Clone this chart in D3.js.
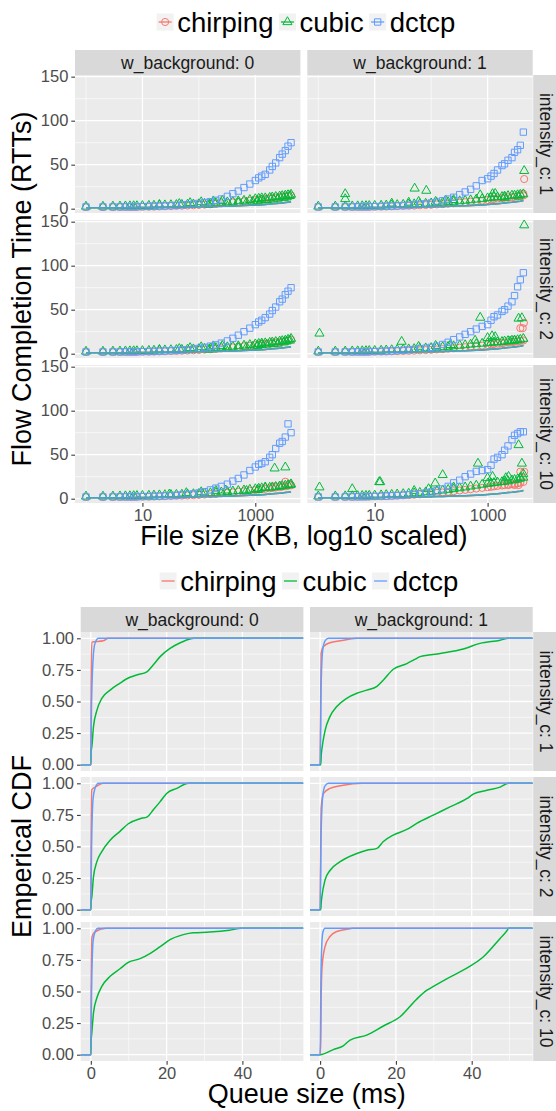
<!DOCTYPE html>
<html><head><meta charset="utf-8">
<script src="https://cdn.jsdelivr.net/npm/d3@7"></script>
<style>
body{margin:0;background:#fff;}
svg text{font-family:"Liberation Sans",Arial,Helvetica,sans-serif;}
</style></head><body>
<svg id="c" width="556" height="1111"></svg>
<script>
// ---------------- DATA ----------------
const protocols = ["chirping", "cubic", "dctcp"];
const wBackgrounds = ["0", "1"];
const intensities = ["1", "2", "10"];

// file sizes (KB) shared by the main point series
const sizesKB = [1,2,3,4,5,6,7,8,10,13,16,20,25,32,40,50,63,80,100,126,160,200,250,320,400,500,630,800,1000,1150,1300,1500,1800,2000,2300,2700,3000,3400,3800,4300];

// flow completion time (RTTs), one value per size
const dctcp_w0_i1 = [2,2,2,2.1,2.1,2.2,2.2,2.3,2.4,2.6,2.8,3,3.2,3.5,3.8,4.2,4.6,5.2,6,7,8,9.5,11,14,17,20,24,28,32,35,37,39,44,48,52,58,62,66,71,75];
const cubic_w0_i1 = [2.5,2.5,2.6,2.7,2.8,2.9,3,3,3.2,3.4,3.6,3.8,4,4.2,4.4,4.6,4.8,5,5.3,5.6,6,6.4,6.9,7.4,8,8.6,9.2,10,11,11.5,12,12,12.5,13,13.5,14,14.5,15,15.5,16];
const chirping_w0_i1 = [1.8,1.8,1.9,1.9,2,2,2.1,2.1,2.2,2.3,2.4,2.6,2.8,3,3.2,3.4,3.6,3.9,4.2,4.6,5,5.5,6,6.6,7.2,7.8,8.4,9,9.8,10.3,10.8,11,11.5,12,12.5,13,13.5,14,14.5,15];

const dctcp_w1_i1 = [2,2,2.1,2.1,2.2,2.2,2.3,2.3,2.4,2.6,2.8,3,3.3,3.6,4,4.4,5,5.6,6.5,7.5,9,11,13,16,19,22,26,32,34,37,40,44,49,51,55,58,64,67,72,87];
const cubic_w1_i1 = [2.6,2.6,2.7,2.8,2.9,3,3.1,3.2,3.4,3.6,3.8,4,4.3,4.6,4.9,5.2,5.5,5.8,6.2,6.6,7,7.5,8,8.6,9.2,9.8,10.5,11,12,12.5,13,13,13.5,14,14.5,15,15,15.5,16,16.5];
const chirping_w1_i1 = [1.9,1.9,2,2,2.1,2.1,2.2,2.2,2.3,2.4,2.5,2.7,2.9,3.1,3.3,3.5,3.8,4.1,4.4,4.8,5.2,5.7,6.2,6.8,7.4,8,8.6,9.2,10,10.5,11,11.5,12,12.5,13,13,13.5,14,14.5,15];

const dctcp_w0_i2 = [2,2,2,2.1,2.1,2.2,2.2,2.3,2.4,2.5,2.7,2.9,3.1,3.4,3.7,4.1,4.5,5.1,6,7.2,8.6,10,12,14.5,17.5,21,25,29,33,36,38,41,45,49,53,59,62,67,71,75];
const cubic_w0_i2 = [2.5,2.5,2.6,2.7,2.8,2.9,3,3,3.2,3.4,3.6,3.8,4,4.2,4.4,4.6,4.8,5.1,5.4,5.7,6.1,6.5,7,7.5,8.1,8.7,9.3,10,10.8,11.3,11.8,12,12.5,13,13.5,14,14.5,15,16,17];
const chirping_w0_i2 = [1.8,1.8,1.9,1.9,2,2,2.1,2.1,2.2,2.3,2.4,2.6,2.8,3,3.2,3.4,3.6,3.9,4.2,4.6,5,5.5,6,6.6,7.2,7.8,8.4,9,9.8,10.3,10.8,11,11.5,12,12.5,13,13.5,14,15,16];

const dctcp_w1_i2 = [2,2,2.1,2.1,2.2,2.2,2.3,2.4,2.5,2.7,2.9,3.2,3.5,3.9,4.3,4.8,5.4,6.2,7.2,8.5,10.5,13,16,19,22,25,28,31,33,38,42,44,48,50,54,59,66,76,84,92];
const cubic_w1_i2 = [2.6,2.6,2.7,2.8,2.9,3,3.1,3.2,3.4,3.6,3.9,4.2,4.5,4.8,5.1,5.4,5.8,6.2,6.6,7,7.5,8,8.6,9.2,9.8,10.5,11,11.5,12,12.5,13,13,13.5,14,14.5,15,15,15.5,16,17];
const chirping_w1_i2 = [1.9,1.9,2,2,2.1,2.1,2.2,2.2,2.3,2.4,2.5,2.7,2.9,3.1,3.3,3.5,3.8,4.1,4.4,4.8,5.2,5.7,6.2,6.8,7.4,8,8.6,9.2,10,10.5,11,11.5,12,12.5,13,13,13.5,14,14.5,15];

const dctcp_w0_i10 = [2,2,2,2.1,2.1,2.2,2.2,2.3,2.4,2.5,2.7,2.9,3.2,3.5,3.9,4.3,4.8,5.5,6.5,8,10,12,14,16.5,20,23,27,32,36,39,40,42,47,50,57,63,65,70,85,75];
const cubic_w0_i10 = [2.6,2.6,2.7,2.8,2.9,3,3.1,3.2,3.4,3.6,3.8,4,4.2,4.4,4.6,4.8,5,5.3,5.6,6,6.4,6.8,7.3,7.8,8.4,9,9.6,10.3,11,11.5,12,12.2,12.6,13,13.5,14,14.5,15,15.5,16.5];
const chirping_w0_i10 = [1.9,1.9,2,2,2.1,2.1,2.2,2.2,2.3,2.4,2.5,2.7,2.9,3.1,3.3,3.5,3.7,4,4.3,4.7,5.1,5.6,6.1,6.7,7.3,7.9,8.5,9.1,9.9,10.4,10.9,11.2,11.7,12.2,12.7,13.2,13.7,14.2,14.7,15.2];

const dctcp_w1_i10 = [2,2,2.1,2.1,2.2,2.3,2.4,2.5,2.6,2.8,3,3.3,3.6,4,4.5,5,5.7,6.5,7.5,9,11,14,18,21,25,28,31,32,33,38,45,47,50,55,60,67,72,74,76,76];
const cubic_w1_i10 = [2.8,2.8,2.9,3,3.1,3.3,3.4,3.5,3.7,4,4.3,4.6,5,5.4,5.8,6.3,6.8,7.4,8,8.7,9.4,10.2,11,12,13,14,15,16,17,17.5,18,18.5,19,19.5,20,21,21.5,22,23,24];
const chirping_w1_i10 = [2,2,2.1,2.1,2.2,2.3,2.4,2.5,2.6,2.8,3,3.2,3.5,3.8,4.1,4.5,4.9,5.4,5.9,6.5,7.1,7.8,8.5,9.3,10,10.8,11.5,12.3,13,13.5,14,14.5,15,15.5,16,16.5,17,17.5,18,19];

// extra scattered flows [sizeKB, FCT]
const cubicOut_w0_i1 = [[20,4.5],[45,5.5],[70,6.5],[110,7.5],[150,4.5],[180,8.5],[260,9],[300,5.5],[500,6.5],[700,7],[900,8],[1100,8.5],[1300,9.5],[1600,10],[2100,10.5],[2500,11.5],[3200,12.5],[3600,13],[4100,14.5]];
const cubicOut_w1_i1 = [[3,16.7],[3,11],[51,23],[82,20.5],[740,15.5],[1225,16.7],[1365,17],[2000,12.5],[3540,14],[4450,43],[20,6],[40,7],[120,8],[250,10],[60,8],[180,9.5]];
const cubicOut_w0_i2 = [[20,4.5],[45,5.5],[70,6.5],[110,7.5],[150,4.5],[180,8.5],[260,9],[300,5.5],[500,6.5],[700,7.5],[900,8],[1100,9],[1300,10],[1600,10.5],[2100,11],[2500,11.5],[3200,13],[3600,14],[4100,15]];
const cubicOut_w1_i2 = [[4450,146],[1.05,23],[740,41],[3540,40],[4050,40.5],[1000,18],[1200,20],[1365,19],[30,13.7],[600,15],[2500,14],[3000,15],[60,8],[120,9],[220,10]];
const cubicOut_w0_i10 = [[2200,34.5],[3400,35.7],[4200,15.6],[1500,13],[2700,14],[700,9],[1100,10],[30,5],[60,6.5],[110,7.5],[200,9],[300,9.5]];
const cubicOut_w1_i10 = [[3540,61],[4050,40],[2350,25],[2100,23.5],[675,40],[160,27],[1000,23.5],[1225,25],[12,19],[12.5,19],[1.05,13],[4,11],[118,17.5],[4300,28],[3800,24],[50,9],[90,11],[250,13]];
const chirpOut_w0_i1 = [];
const chirpOut_w1_i1 = [[4450,33.7],[4300,17]];
const chirpOut_w0_i2 = [];
const chirpOut_w1_i2 = [[3800,29],[4200,29],[4400,35]];
const chirpOut_w0_i10 = [[3400,19.3],[2200,14],[4000,16]];
const chirpOut_w1_i10 = [[4450,30.7],[3800,30.7],[2350,15.5],[3000,15.5],[3540,15.5]];

// reference lines (RTTs) per size
const lineW0 = [1.1,1.1,1.15,1.2,1.2,1.25,1.3,1.3,1.35,1.4,1.5,1.6,1.7,1.8,1.9,2,2.1,2.2,2.3,2.4,2.5,2.6,2.7,2.9,3.1,3.3,3.5,3.8,4.1,4.3,4.5,4.8,5.2,5.5,5.8,6.2,6.5,6.9,7.3,7.8];
const lineW1 = [1.1,1.1,1.15,1.2,1.2,1.25,1.3,1.3,1.35,1.4,1.5,1.6,1.7,1.8,1.9,2,2.1,2.2,2.3,2.4,2.6,2.8,3,3.2,3.4,3.7,4,4.3,4.7,5,5.3,5.7,6.1,6.5,6.9,7.3,7.7,8.1,8.5,9.2];

// queue size ECDFs [ms, cdf]
const cubicCdf_w0_i1 = [[0,0],[0.05,0.1],[0.26,0.14],[0.7,0.30],[1.6,0.43],[2.9,0.525],[5.1,0.59],[7.7,0.645],[9.5,0.68],[12.1,0.71],[14.8,0.735],[16.5,0.79],[18.3,0.855],[20.9,0.92],[23.6,0.965],[26.2,0.995],[27.2,1]];
const cubicCdf_w0_i2 = [[0,0],[0.05,0.06],[0.26,0.10],[0.7,0.26],[1.6,0.38],[2.9,0.46],[5.1,0.55],[7.7,0.62],[9.9,0.68],[13,0.72],[14.9,0.735],[16.5,0.79],[18.3,0.855],[20,0.92],[22.7,0.96],[25.8,1]];
const cubicCdf_w0_i10 = [[0,0],[0.05,0.1],[0.26,0.17],[0.7,0.33],[1.6,0.45],[2.9,0.54],[5.1,0.62],[7.7,0.68],[9.9,0.73],[13,0.76],[15.6,0.80],[18.3,0.855],[20.9,0.91],[24.4,0.95],[27,0.965],[31.4,0.97],[36.6,0.985],[39.7,1]];
const cubicCdf_w1_i1 = [[0.18,0],[0.3,0.08],[0.45,0.12],[1.3,0.27],[2.6,0.38],[4.4,0.46],[7,0.525],[9.7,0.565],[12.3,0.59],[15,0.62],[16.7,0.67],[19.3,0.755],[22.9,0.80],[25.1,0.835],[26.4,0.855],[31.7,0.88],[37.8,0.915],[42.2,0.96],[47.5,0.985],[49.7,1]];
const cubicCdf_w1_i2 = [[0.18,0],[0.3,0.06],[0.45,0.10],[1.3,0.235],[2.6,0.31],[5.3,0.38],[9.7,0.445],[12.3,0.47],[15,0.485],[16.7,0.54],[19.3,0.59],[22.9,0.635],[25.6,0.685],[30,0.75],[34.4,0.815],[38.8,0.88],[40.4,0.915],[44,0.945],[47.5,0.97],[49.7,1]];
const cubicCdf_w1_i10 = [[0,0],[3.5,0.04],[6.1,0.07],[7.9,0.115],[12.3,0.155],[16.7,0.227],[21.1,0.30],[25.5,0.44],[28.2,0.51],[29.9,0.54],[33.4,0.60],[38.7,0.685],[43.1,0.775],[47.5,0.92],[49.4,0.985],[49.7,1]];
const chirpCdf_w0_i1 = [[0,0],[0.08,0.62],[0.26,0.97],[3.3,0.98],[4.6,1]];
const chirpCdf_w0_i2 = [[0,0],[0.08,0.6],[0.26,0.95],[1.5,0.975],[3.2,1]];
const chirpCdf_w0_i10 = [[0,0],[0.08,0.55],[0.3,0.93],[1,0.97],[4,1]];
const chirpCdf_w1_i1 = [[0,0],[0.1,0.3],[0.26,0.88],[0.9,0.935],[2.6,0.965],[5.3,0.98],[9.7,1]];
const chirpCdf_w1_i2 = [[0,0],[0.1,0.3],[0.26,0.8],[0.9,0.92],[2.6,0.96],[6.1,0.985],[11,1]];
const chirpCdf_w1_i10 = [[0,0],[0.18,0.115],[0.26,0.43],[0.53,0.70],[1.3,0.855],[2.6,0.935],[4.4,0.975],[7.5,0.995],[8.5,1]];
const dctcpCdf_w0_i1 = [[0,0],[0.2,0.5],[0.7,0.88],[1.1,0.96],[2,1]];
const dctcpCdf_w0_i2 = [[0,0],[0.2,0.5],[0.6,0.88],[1.1,0.96],[2,1]];
const dctcpCdf_w0_i10 = [[0,0],[0.2,0.5],[0.6,0.9],[1.1,0.97],[1.9,1]];
const dctcpCdf_w1_i1 = [[0,0],[0.26,0.62],[0.7,0.91],[1.3,0.98],[2.2,1]];
const dctcpCdf_w1_i2 = [[0,0],[0.26,0.6],[0.7,0.9],[1.3,0.98],[2.2,1]];
const dctcpCdf_w1_i10 = [[0,0],[0.26,0.70],[0.7,0.965],[1.3,1]];

// tick labels
const fctTicks = [0, 50, 100, 150];
const fctMinor = [25, 75, 125];
const sizeTicks = [10, 1000];
const sizeMinor = [1, 100];
const cdfTicks = [0, 0.25, 0.5, 0.75, 1];
const cdfMinor = [0.125, 0.375, 0.625, 0.875];
const qTicks = [0, 20, 40];
const qMinor = [10, 30, 50];

// ---------------- lookup tables built from arrays ----------------
const fctData = {
  w0_i1: {chirping: chirping_w0_i1, cubic: cubic_w0_i1, dctcp: dctcp_w0_i1, cOut: cubicOut_w0_i1, rOut: chirpOut_w0_i1, line: lineW0},
  w1_i1: {chirping: chirping_w1_i1, cubic: cubic_w1_i1, dctcp: dctcp_w1_i1, cOut: cubicOut_w1_i1, rOut: chirpOut_w1_i1, line: lineW1},
  w0_i2: {chirping: chirping_w0_i2, cubic: cubic_w0_i2, dctcp: dctcp_w0_i2, cOut: cubicOut_w0_i2, rOut: chirpOut_w0_i2, line: lineW0},
  w1_i2: {chirping: chirping_w1_i2, cubic: cubic_w1_i2, dctcp: dctcp_w1_i2, cOut: cubicOut_w1_i2, rOut: chirpOut_w1_i2, line: lineW1},
  w0_i10: {chirping: chirping_w0_i10, cubic: cubic_w0_i10, dctcp: dctcp_w0_i10, cOut: cubicOut_w0_i10, rOut: chirpOut_w0_i10, line: lineW0},
  w1_i10: {chirping: chirping_w1_i10, cubic: cubic_w1_i10, dctcp: dctcp_w1_i10, cOut: cubicOut_w1_i10, rOut: chirpOut_w1_i10, line: lineW1}
};
const cdfData = {
  w0_i1: {chirping: chirpCdf_w0_i1, cubic: cubicCdf_w0_i1, dctcp: dctcpCdf_w0_i1},
  w1_i1: {chirping: chirpCdf_w1_i1, cubic: cubicCdf_w1_i1, dctcp: dctcpCdf_w1_i1},
  w0_i2: {chirping: chirpCdf_w0_i2, cubic: cubicCdf_w0_i2, dctcp: dctcpCdf_w0_i2},
  w1_i2: {chirping: chirpCdf_w1_i2, cubic: cubicCdf_w1_i2, dctcp: dctcpCdf_w1_i2},
  w0_i10: {chirping: chirpCdf_w0_i10, cubic: cubicCdf_w0_i10, dctcp: dctcpCdf_w0_i10},
  w1_i10: {chirping: chirpCdf_w1_i10, cubic: cubicCdf_w1_i10, dctcp: dctcpCdf_w1_i10}
};

// ---------------- STYLE / LAYOUT ----------------
const colors = {chirping: "#F8766D", cubic: "#00BA38", dctcp: "#619CFF"};
const symbols = {chirping: d3.symbolCircle, cubic: d3.symbolTriangle, dctcp: d3.symbolSquare};
const symSize = {chirping: 40, cubic: 36, dctcp: 40};
const svg = d3.select("#c");
let clipId = 0;

function panelBg(g, w, h, xs, ys, xMaj, xMin, yMaj, yMin) {
  g.append("rect").attr("width", w).attr("height", h).attr("fill", "#EBEBEB");
  const grid = g.append("g");
  yMin.forEach(v => grid.append("line").attr("x1", 0).attr("x2", w).attr("y1", ys(v)).attr("y2", ys(v)).attr("stroke", "#fff").attr("stroke-width", 0.6));
  xMin.forEach(v => grid.append("line").attr("y1", 0).attr("y2", h).attr("x1", xs(v)).attr("x2", xs(v)).attr("stroke", "#fff").attr("stroke-width", 0.6));
  yMaj.forEach(v => grid.append("line").attr("x1", 0).attr("x2", w).attr("y1", ys(v)).attr("y2", ys(v)).attr("stroke", "#fff").attr("stroke-width", 1.3));
  xMaj.forEach(v => grid.append("line").attr("y1", 0).attr("y2", h).attr("x1", xs(v)).attr("x2", xs(v)).attr("stroke", "#fff").attr("stroke-width", 1.3));
  const id = "clip" + (clipId++);
  g.append("clipPath").attr("id", id).append("rect").attr("width", w).attr("height", h);
  return g.append("g").attr("clip-path", `url(#${id})`);
}
function styleAxis(a) {
  a.select(".domain").remove();
  a.selectAll(".tick line").attr("stroke", "#333").attr("stroke-width", 1.05);
  a.selectAll(".tick text").attr("fill", "#4D4D4D").style("font-size", "16.5px");
}
function topStrip(x, y, w, label) {
  svg.append("rect").attr("x", x).attr("y", y).attr("width", w).attr("height", 25).attr("fill", "#D9D9D9");
  svg.append("text").attr("x", x + w / 2).attr("y", y + 12.5).attr("dy", "0.35em").attr("text-anchor", "middle")
    .attr("fill", "#1A1A1A").style("font-size", "17.5px").text(label);
}
function sideStrip(x, y, h, label) {
  svg.append("rect").attr("x", x).attr("y", y).attr("width", 26).attr("height", h).attr("fill", "#D9D9D9");
  svg.append("text").attr("transform", `translate(${x + 13},${y + h / 2}) rotate(90)`).attr("dy", "0.35em")
    .attr("text-anchor", "middle").attr("fill", "#1A1A1A").style("font-size", "17.5px").text(label);
}
function legend(cy, cx, withPoints) {
  const g = svg.append("g");
  const items = [];
  protocols.forEach(p => {
    const k = g.append("g");
    k.append("rect").attr("width", 17).attr("height", 17).attr("y", -8.5).attr("fill", "#F2F2F2");
    k.append("line").attr("x1", 2).attr("x2", 15).attr("y1", 0).attr("y2", 0).attr("stroke", colors[p]).attr("stroke-width", 1.3);
    if (withPoints) k.append("path").attr("d", d3.symbol().type(symbols[p]).size(symSize[p])()).attr("transform", "translate(8.5,0)")
      .attr("fill", "none").attr("stroke", colors[p]).attr("stroke-width", 1);
    const t = k.append("text").attr("x", 20.5).attr("dy", "0.35em").style("font-size", "27.5px").attr("fill", "#000").text(p);
    items.push({k, w: 20.5 + t.node().getComputedTextLength()});
  });
  let x = 0;
  items.forEach(it => { it.k.attr("transform", `translate(${x},0)`); x += it.w + 5.5; });
  const total = x - 5.5;
  g.attr("transform", `translate(${cx - total / 2},${cy})`);
}

// ---------------- TOP CHART ----------------
const T = {colX: [75, 307.3], colW: 225.4, rowY: [75, 220, 365], rowH: 138};
const xTop = d3.scaleLog().domain([Math.pow(10, -0.1945), Math.pow(10, 3.799)]).range([0, T.colW]);
const yTop = d3.scaleLinear().domain([-4.9, 151.9]).range([T.rowH, 0]);

legend(22, 306, true);
wBackgrounds.forEach((w, ci) => topStrip(T.colX[ci], 50, T.colW, "w_background: " + w));
intensities.forEach((it, ri) => {
  sideStrip(T.colX[1] + T.colW + 0.5, T.rowY[ri], T.rowH, "intensity_c: " + it);
  wBackgrounds.forEach((w, ci) => {
    const key = "w" + w + "_i" + it;
    const d = fctData[key];
    const g = svg.append("g").attr("transform", `translate(${T.colX[ci]},${T.rowY[ri]})`);
    const inner = panelBg(g, T.colW, T.rowH, xTop, yTop, sizeTicks, sizeMinor, fctTicks, fctMinor);
    const line = d3.line().x((v, i) => xTop(sizesKB[i])).y(v => yTop(v));
    const drawPts = (pts, p) => inner.append("g").selectAll("path").data(pts).join("path")
      .attr("d", d3.symbol().type(symbols[p]).size(symSize[p])())
      .attr("transform", q => `translate(${xTop(q[0])},${yTop(q[1])})`)
      .attr("fill", "none").attr("stroke", colors[p]).attr("stroke-width", 1);
    drawPts(d.chirping.map((v, i) => [sizesKB[i], v]), "chirping");
    drawPts(d.rOut, "chirping");
    drawPts(d.cubic.map((v, i) => [sizesKB[i], v]), "cubic");
    drawPts(d.cOut, "cubic");
    drawPts(d.dctcp.map((v, i) => [sizesKB[i], v]), "dctcp");
    protocols.forEach(p => inner.append("path").attr("d", line(d.line)).attr("fill", "none")
      .attr("stroke", colors[p]).attr("stroke-width", 1.5).attr("stroke-opacity", p === "dctcp" ? 0.75 : 1));
    if (ci === 0) {
      const a = g.append("g").call(d3.axisLeft(yTop).tickValues(fctTicks).tickSize(3.7).tickPadding(3).tickFormat(d3.format("d")));
      styleAxis(a);
    }
    if (ri === 2) {
      const a = g.append("g").attr("transform", `translate(0,${T.rowH})`)
        .call(d3.axisBottom(xTop).tickValues(sizeTicks).tickSize(3.7).tickPadding(3).tickFormat(d3.format("d")));
      styleAxis(a);
    }
  });
});
svg.append("text").attr("x", (T.colX[0] + T.colX[1] + T.colW) / 2).attr("y", 545).attr("text-anchor", "middle")
  .style("font-size", "27px").attr("fill", "#000").text("File size (KB, log10 scaled)");
svg.append("text").attr("transform", `translate(31,${(T.rowY[0] + T.rowY[2] + T.rowH) / 2}) rotate(-90)`)
  .attr("text-anchor", "middle").style("font-size", "27px").attr("fill", "#000").text("Flow Completion Time (RTTs)");

// ---------------- BOTTOM CHART ----------------
const B = {colX: [80.7, 310], colW: 222.7, rowY: [632, 777, 922], rowH: 139};
const xBot = d3.scaleLinear().domain([-2.67, 56.1]).range([0, B.colW]);
const yBot = d3.scaleLinear().domain([-0.05, 1.05]).range([B.rowH, 0]);

legend(581, 309, false);
wBackgrounds.forEach((w, ci) => topStrip(B.colX[ci], 607, B.colW, "w_background: " + w));
intensities.forEach((it, ri) => {
  sideStrip(B.colX[1] + B.colW + 0.5, B.rowY[ri], B.rowH, "intensity_c: " + it);
  wBackgrounds.forEach((w, ci) => {
    const key = "w" + w + "_i" + it;
    const d = cdfData[key];
    const g = svg.append("g").attr("transform", `translate(${B.colX[ci]},${B.rowY[ri]})`);
    const inner = panelBg(g, B.colW, B.rowH, xBot, yBot, qTicks, qMinor, cdfTicks, cdfMinor);
    const line = d3.line().x(v => xBot(v[0])).y(v => yBot(v[1])).curve(d3.curveMonotoneX);
    protocols.forEach(p => {
      const pts = [[xBot.domain()[0], 0]].concat(d[p], [[xBot.domain()[1], 1]]);
      inner.append("path").attr("d", line(pts)).attr("fill", "none").attr("stroke", colors[p])
        .attr("stroke-width", 1.5).attr("stroke-linejoin", "round");
    });
    if (ci === 0) {
      const a = g.append("g").call(d3.axisLeft(yBot).tickValues(cdfTicks).tickSize(3.7).tickPadding(3).tickFormat(d3.format(".2f")));
      styleAxis(a);
    }
    if (ri === 2) {
      const a = g.append("g").attr("transform", `translate(0,${B.rowH})`)
        .call(d3.axisBottom(xBot).tickValues(qTicks).tickSize(3.7).tickPadding(3).tickFormat(d3.format("d")));
      styleAxis(a);
    }
  });
});
svg.append("text").attr("x", (B.colX[0] + B.colX[1] + B.colW) / 2).attr("y", 1103).attr("text-anchor", "middle")
  .style("font-size", "27px").attr("fill", "#000").text("Queue size (ms)");
svg.append("text").attr("transform", `translate(31,${(B.rowY[0] + B.rowY[2] + B.rowH) / 2}) rotate(-90)`)
  .attr("text-anchor", "middle").style("font-size", "27px").attr("fill", "#000").text("Emperical CDF");
</script>
</body></html>
